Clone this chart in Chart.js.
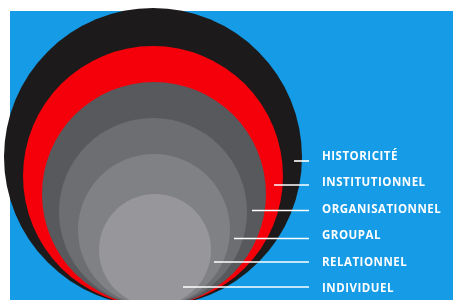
<!DOCTYPE html>
<html>
<head>
<meta charset="utf-8">
<script src="https://cdn.jsdelivr.net/npm/chart.js@4/dist/chart.umd.min.js"></script>
<style>
html,body{margin:0;padding:0;background:#fff;}
#wrap{width:453px;height:300px;}
</style>
</head>
<body>
<div id="wrap"><canvas id="c" width="453" height="300"></canvas></div>
<script>
// Levels (outermost first)
const levels = ['HISTORICITÉ','INSTITUTIONNEL','ORGANISATIONNEL','GROUPAL','RELATIONNEL','INDIVIDUEL'];
// Circle radii (same units as axes); circles are tangent at the bottom (y = 0)
const radii = [149, 130, 112, 94, 76, 56];
const centerX = [-1, -1, 0, -1, 0, 1];
const circleColors = ['#1c1a1a','#f5000a','#58595d','#6d6e72','#808185','#97979b'];
// Leader lines: height, start x, end x
const lineY = [145, 121, 95.5, 67.5, 44, 19];
const lineStartX = [140, 120, 98, 80, 60, 29];
const lineEndX = [155, 155, 155, 155, 155, 155];
// Label anchor
const labelX = 168;
const labelY = [149, 123, 96, 70, 43, 17];

const circleData = radii.map((r, i) => ({x: centerX[i], y: r}));

function pxRadius(ctx, i) {
  const s = ctx.chart.scales.x;
  return Math.abs(s.getPixelForValue(radii[i]) - s.getPixelForValue(0));
}

const lineSets = levels.map((name, i) => ({
  type: 'scatter',
  label: name,
  data: [{x: lineStartX[i], y: lineY[i]}, {x: lineEndX[i], y: lineY[i]}],
  showLine: true,
  borderColor: '#ffffff',
  borderWidth: 1.6,
  pointRadius: 0,
  clip: false,
  order: 0
}));

const bgPlugin = {
  id: 'bg',
  beforeDraw(chart) {
    const a = chart.chartArea, c = chart.ctx;
    c.save();
    c.fillStyle = '#169be6';
    c.fillRect(a.left, a.top, a.right - a.left, a.bottom - a.top);
    c.restore();
  }
};

const labelPlugin = {
  id: 'labels',
  afterDatasetsDraw(chart) {
    const c = chart.ctx, sx = chart.scales.x, sy = chart.scales.y;
    c.save();
    c.fillStyle = '#ffffff';
    c.font = 'bold 11.5px "Open Sans"';
    c.textBaseline = 'middle';
    c.textAlign = 'left';
    if ('letterSpacing' in c) c.letterSpacing = '0.5px';
    levels.forEach((t, i) => {
      c.fillText(t, sx.getPixelForValue(labelX), sy.getPixelForValue(labelY[i]));
    });
    c.restore();
  }
};

new Chart(document.getElementById('c'), {
  type: 'scatter',
  data: {
    datasets: [
      ...lineSets,
      {
        label: 'niveaux',
        data: circleData,
        pointStyle: 'circle',
        backgroundColor: circleColors,
        borderWidth: 0,
        pointRadius: ctx => pxRadius(ctx, ctx.dataIndex),
        pointHoverRadius: ctx => pxRadius(ctx, ctx.dataIndex),
        clip: false,
        order: 1
      }
    ]
  },
  options: {
    responsive: false,
    animation: false,
    events: [],
    layout: {padding: {left: 10, top: 11, right: 0, bottom: 0}},
    plugins: {legend: {display: false}, tooltip: {enabled: false}},
    scales: {
      x: {type: 'linear', min: -144, max: 299, display: false},
      y: {type: 'linear', min: 6, max: 295, display: false}
    }
  },
  plugins: [bgPlugin, labelPlugin]
});
</script>
</body>
</html>
